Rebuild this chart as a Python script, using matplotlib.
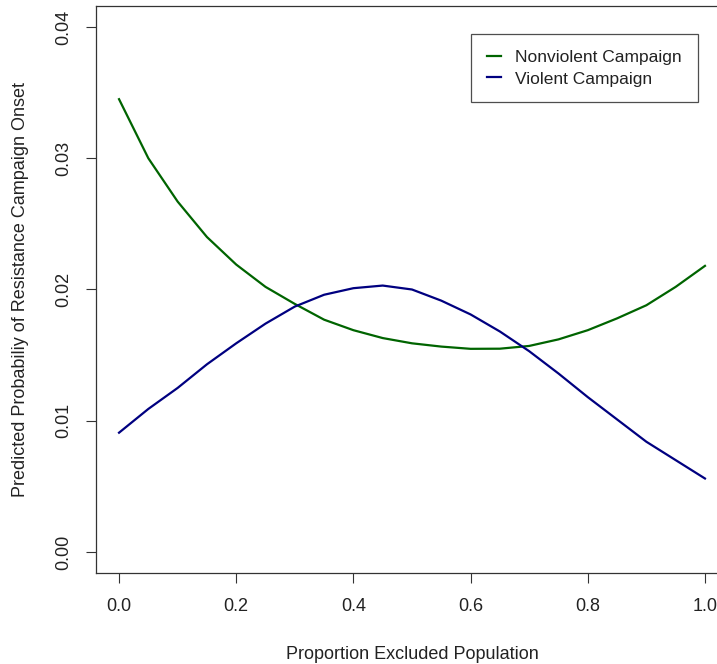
import matplotlib
matplotlib.use("Agg")
import matplotlib.pyplot as plt

plt.rcParams['font.family'] = ['Liberation Sans', 'DejaVu Sans']

x = [0.00, 0.05, 0.10, 0.15, 0.20, 0.25, 0.30, 0.35, 0.40, 0.45, 0.50,
     0.55, 0.60, 0.65, 0.70, 0.75, 0.80, 0.85, 0.90, 0.95, 1.00]
nonviolent = [0.0345, 0.0300, 0.0267, 0.0240, 0.0219, 0.0202, 0.0189, 0.0177,
              0.0169, 0.0163, 0.0159, 0.01565, 0.01548, 0.01549, 0.0157, 0.0162,
              0.0169, 0.0178, 0.0188, 0.0202, 0.0218]
violent = [0.00909, 0.0109, 0.0125, 0.0143, 0.0159, 0.0174, 0.0187, 0.0196,
           0.0201, 0.0203, 0.0200, 0.01915, 0.0181, 0.0168, 0.0153, 0.0136,
           0.0118, 0.0101, 0.0084, 0.0070, 0.0056]
series_labels = ["Nonviolent Campaign", "Violent Campaign"]
xticks = [0.0, 0.2, 0.4, 0.6, 0.8, 1.0]
yticks = [0.00, 0.01, 0.02, 0.03, 0.04]

W, H = 717, 664
fig = plt.figure(figsize=(W / 100, H / 100), dpi=100)
ax = fig.add_axes([95.6 / W, (H - 573) / H, (728.4 - 95.6) / W, (573 - 6) / H])

tc = '#222222'
ax.plot(x, nonviolent, color='#006400', lw=1.6, label=series_labels[0],
        solid_joinstyle='round')
ax.plot(x, violent, color='#000080', lw=1.6, label=series_labels[1],
        solid_joinstyle='round')

ax.set_xlim(-0.04, 1.04)
ax.set_ylim(-0.0016, 0.0416)
ax.set_xticks(xticks)
ax.set_xticklabels([f"{v:.1f}" for v in xticks])
ax.set_yticks(yticks)
ax.set_yticklabels([f"{v:.2f}" for v in yticks], rotation=90, va='center')
ax.tick_params(axis='both', length=7, width=0.8, color='#333333',
               labelsize=13, labelcolor=tc, pad=11)
ax.tick_params(axis='y', pad=10)
for s in ax.spines.values():
    s.set_linewidth(0.9)
    s.set_color('#333333')

ax.set_xlabel("Proportion Excluded Population", fontsize=13, color=tc, labelpad=22)
ax.set_ylabel("Predicted Probabiliy of Resistance Campaign Onset", fontsize=13,
              color=tc, labelpad=19)

leg = ax.legend(loc='upper left', bbox_to_anchor=(471 / W, 1 - 34 / H),
                bbox_transform=fig.transFigure, fontsize=12.5, frameon=True,
                fancybox=False, edgecolor='#222222', handlelength=0.8,
                handletextpad=0.85, borderpad=0.9, labelspacing=0.38,
                borderaxespad=0)
leg.get_frame().set_linewidth(0.9)
for t in leg.get_texts():
    t.set_color(tc)

fig.savefig("out.png", dpi=100, facecolor='white')
